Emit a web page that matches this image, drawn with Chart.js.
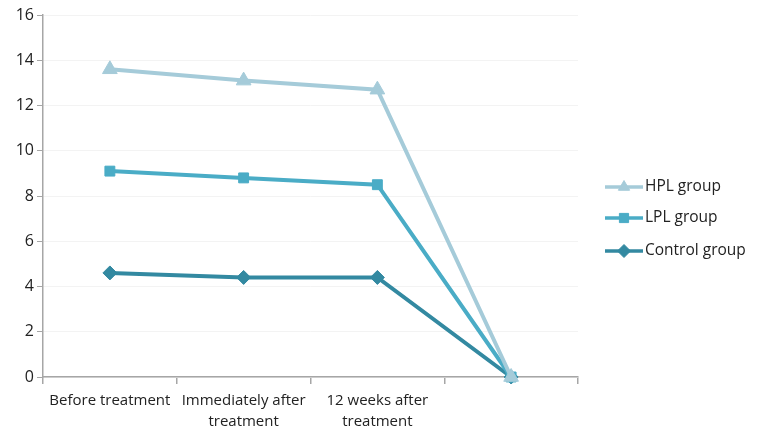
<!DOCTYPE html>
<html>
<head>
<meta charset="utf-8">
<script src="https://cdn.jsdelivr.net/npm/chart.js@4"></script>
<style>
  html, body { margin: 0; padding: 0; background: #fff; }
  #wrap { width: 758px; height: 438px; }
</style>
</head>
<body>
<div id="wrap"><canvas id="chartGrupos"></canvas></div>
<script>
const categorias = ['Before treatment', ['Immediately after', 'treatment'], ['12 weeks after', 'treatment'], ''];
const grupos = ['HPL group', 'LPL group', 'Control group'];
const hpl = [13.6, 13.1, 12.7, 0];
const lpl = [9.1, 8.8, 8.5, 0];
const control = [4.6, 4.4, 4.4, 0];
const yTicks = [0, 2, 4, 6, 8, 10, 12, 14, 16];

const colores = ['#a5cbd9', '#4aacc6', '#3389a1'];
const marcas = ['triangle', 'rect', 'rectRot'];
const FUENTE = '"Open Sans", "Noto Sans", sans-serif';

// leyenda a la derecha: linea con marcador + texto
const leyendaPlugin = {
    id: 'leyendaLinea',
    afterDraw(chart) {
        const ctx = chart.ctx;
        const filas = [187, 218, 251];
        chart.data.datasets.forEach((ds, i) => {
            const y = filas[i];
            ctx.save();
            ctx.strokeStyle = ds.borderColor;
            ctx.fillStyle = ds.borderColor;
            ctx.lineWidth = 3.5;
            ctx.beginPath();
            ctx.moveTo(605, y);
            ctx.lineTo(643, y);
            ctx.stroke();
            ctx.lineWidth = 1;
            Chart.helpers.drawPoint(ctx, { pointStyle: ds.pointStyle, radius: 6.5, borderWidth: 1 }, 624, y);
            ctx.fillStyle = '#222';
            ctx.font = '15.5px ' + FUENTE;
            ctx.textBaseline = 'middle';
            ctx.textAlign = 'left';
            ctx.fillText(grupos[i], 645, y);
            ctx.restore();
        });
    }
};

const ctx = document.getElementById('chartGrupos').getContext('2d');

new Chart(ctx, {
    type: 'line',
    data: {
        labels: categorias,
        datasets: [hpl, lpl, control].map((serie, i) => ({
            label: grupos[i],
            data: serie,
            borderColor: colores[i],
            backgroundColor: colores[i],
            borderWidth: 4,
            pointStyle: marcas[i],
            pointRadius: i === 0 ? 8.5 : 7,
            pointBorderWidth: 1,
            tension: 0,
            clip: false
        }))
    },
    options: {
        responsive: true,
        maintainAspectRatio: false,
        animation: false,
        layout: { padding: { top: 15, right: 180, left: 0, bottom: 0 } },
        plugins: {
            legend: { display: false },
            tooltip: { enabled: false }
        },
        scales: {
            x: {
                offset: true,
                grid: {
                    offset: true,
                    drawOnChartArea: false,
                    drawTicks: true,
                    tickLength: 7,
                    color: '#a6a6a6',
                    lineWidth: 1.5
                },
                border: { color: '#a6a6a6', width: 1.5 },
                ticks: {
                    color: '#222',
                    font: { family: FUENTE, size: 15, lineHeight: 1.35 },
                    maxRotation: 0,
                    autoSkip: false,
                    padding: 7
                },
                afterFit(scale) { scale.height = 61; }
            },
            y: {
                min: 0,
                max: 16,
                afterBuildTicks(scale) { scale.ticks = yTicks.map(v => ({ value: v })); },
                grid: {
                    color: '#f3f3f3',
                    tickColor: '#a6a6a6',
                    tickLength: 6,
                    lineWidth: 1
                },
                border: { color: '#a6a6a6', width: 1.5 },
                ticks: {
                    color: '#222',
                    font: { family: FUENTE, size: 16 },
                    padding: 3
                },
                afterFit(scale) { scale.width = 43; }
            }
        }
    },
    plugins: [leyendaPlugin]
});
</script>
</body>
</html>
